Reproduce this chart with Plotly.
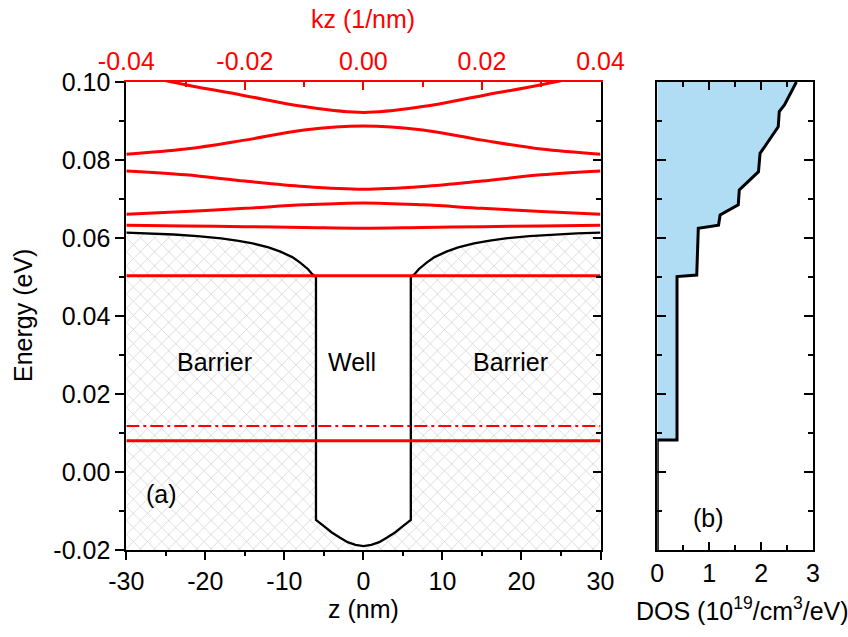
import plotly.graph_objects as go

# ---------------- data ----------------
# conduction band potential profile V(z)
z_pot = [-30, -27, -24, -21, -18, -16, -14, -12, -10.5, -9, -8, -7, -6.5, -6, -6,
         -5, -4, -3, -2, -1, 0, 1, 2, 3, 4, 5,
         6, 6, 6.5, 7, 8, 9, 10.5, 12, 14, 16, 18, 21, 24, 27, 30]
E_pot = [0.0614, 0.0612, 0.0609, 0.0605, 0.0599, 0.0593, 0.0586, 0.0576, 0.0565, 0.0551, 0.0537, 0.0520, 0.0508, 0.0500, -0.0123,
         -0.0139, -0.0155, -0.0168, -0.0180, -0.0187, -0.0190, -0.0187, -0.0180, -0.0168, -0.0155, -0.0139,
         -0.0123, 0.0500, 0.0508, 0.0520, 0.0537, 0.0551, 0.0565, 0.0576, 0.0586, 0.0593, 0.0599, 0.0605, 0.0609, 0.0612, 0.0614]

# subband dispersion E(kz)
kz = [-0.04, -0.03, -0.02, -0.01, 0.0, 0.01, 0.02, 0.03, 0.04]
band1 = [0.0080] * 9
band2 = [0.0503] * 9
band3 = [0.0633, 0.0631, 0.0629, 0.0627, 0.0625, 0.0627, 0.0629, 0.0631, 0.0633]
band4 = [0.0661, 0.0668, 0.0676, 0.0685, 0.0690, 0.0685, 0.0676, 0.0668, 0.0661]
band5 = [0.0772, 0.0762, 0.0746, 0.0732, 0.0725, 0.0732, 0.0746, 0.0762, 0.0772]
band6 = [0.0815, 0.0828, 0.0851, 0.0877, 0.0887, 0.0877, 0.0851, 0.0828, 0.0815]
band7 = [0.1025, 0.0993, 0.0965, 0.0937, 0.0922, 0.0937, 0.0965, 0.0993, 0.1025]
fermi = [0.0118] * 9

# density of states
dos_E = [-0.02, 0.0082, 0.0082, 0.0501, 0.0505, 0.0625, 0.0633, 0.0659, 0.0685, 0.0723,
         0.0770, 0.0817, 0.0885, 0.0924, 0.0941, 0.1000]
dos_val = [0.0, 0.0, 0.38, 0.38, 0.76, 0.79, 1.18, 1.21, 1.56, 1.58,
           1.95, 1.98, 2.33, 2.35, 2.45, 2.68]

# tick labels
E_ticks = [-0.02, 0.0, 0.02, 0.04, 0.06, 0.08, 0.10]
E_labels = ["-0.02", "0.00", "0.02", "0.04", "0.06", "0.08", "0.10"]
z_ticks = [-30, -20, -10, 0, 10, 20, 30]
z_labels = ["-30", "-20", "-10", "0", "10", "20", "30"]
kz_ticks = [-0.04, -0.02, 0.0, 0.02, 0.04]
kz_labels = ["-0.04", "-0.02", "0.00", "0.02", "0.04"]
dos_ticks = [0, 1, 2, 3]
dos_labels = ["0", "1", "2", "3"]

# ---------------- figure ----------------
W, H = 848, 637
T, B = 82, 87
FONT = "Liberation Sans, Arial, sans-serif"
FS = 25
RED = "#ff0000"

fig = go.Figure()

# hatched region under the potential
fig.add_trace(go.Scatter(
    x=z_pot + [30, -30], y=E_pot + [-0.02, -0.02],
    xaxis="x", yaxis="y", mode="lines", fill="toself",
    line=dict(width=0, color="rgba(0,0,0,0)"),
    fillcolor="white",
    fillpattern=dict(shape="x", size=10, solidity=0.12, fgcolor="#c8c8c8",
                     bgcolor="white", fillmode="replace"),
    hoverinfo="skip", showlegend=False))

fig.add_trace(go.Scatter(x=z_pot, y=E_pot, xaxis="x", yaxis="y", mode="lines",
                         line=dict(color="black", width=2.3), showlegend=False))

# dummy trace for the inside-tick right axis
fig.add_trace(go.Scatter(x=[None], y=[None], xaxis="x", yaxis="y2", mode="lines",
                         showlegend=False))

for b in [band1, band2, band3, band4, band5, band6, band7]:
    fig.add_trace(go.Scatter(x=kz, y=b, xaxis="x2", yaxis="y", mode="lines",
                             line=dict(color=RED, width=3, shape="spline"),
                             showlegend=False))
fig.add_trace(go.Scatter(x=kz, y=fermi, xaxis="x2", yaxis="y", mode="lines",
                         line=dict(color=RED, width=2, dash="13px,4px,3px,4px"),
                         showlegend=False))

# DOS
fig.add_trace(go.Scatter(x=dos_val, y=dos_E, xaxis="x3", yaxis="y3", mode="lines",
                         fill="tozerox", fillcolor="#b0dcf4",
                         line=dict(color="black", width=3), showlegend=False))

x_dom = [126.3 / W, 600.5 / W]
x3_dom = [657.3 / W, 813.0 / W]

axis_common = dict(showgrid=False, zeroline=False, automargin=False,
                   showline=True, linecolor="black", linewidth=2,
                   tickcolor="black", tickwidth=1.5,
                   tickfont=dict(family=FONT, size=FS, color="black"))

fig.update_layout(
    width=W, height=H,
    margin=dict(l=0, r=0, t=T, b=B),
    paper_bgcolor="white", plot_bgcolor="white",
    font=dict(family=FONT, size=FS, color="black"),
    showlegend=False,
    xaxis=dict(**axis_common, domain=x_dom, anchor="y", range=[-30, 30],
               tickmode="array", tickvals=z_ticks, ticktext=z_labels,
               ticks="outside", ticklen=8,
               minor=dict(tickvals=[-25, -15, -5, 5, 15, 25], ticks="outside",
                          ticklen=4, tickcolor="black", tickwidth=1.5)),
    xaxis2=dict(**{**axis_common, "linecolor": RED, "tickcolor": RED,
                   "tickfont": dict(family=FONT, size=FS, color=RED)},
                overlaying="x", side="top", anchor="y", range=[-0.04, 0.04],
                tickmode="array", tickvals=kz_ticks, ticktext=kz_labels,
                ticks="inside", ticklen=8,
                minor=dict(tickvals=[-0.03, -0.01, 0.01, 0.03], ticks="inside",
                           ticklen=5, tickcolor=RED, tickwidth=1.5)),
    yaxis=dict(**axis_common, domain=[0, 1], anchor="x", range=[-0.02, 0.10],
               tickmode="array", tickvals=E_ticks, ticktext=E_labels,
               ticks="outside", ticklen=9,
               minor=dict(tickvals=[-0.01, 0.01, 0.03, 0.05, 0.07, 0.09],
                          ticks="outside", ticklen=5, tickcolor="black", tickwidth=1.5)),
    yaxis2=dict(**axis_common, overlaying="y", side="right", anchor="x",
                range=[-0.02, 0.10], tickmode="array", tickvals=E_ticks,
                showticklabels=False, ticks="inside", ticklen=8,
                minor=dict(tickvals=[-0.01, 0.01, 0.03, 0.05, 0.07, 0.09],
                           ticks="inside", ticklen=5, tickcolor="black", tickwidth=1.5)),
    xaxis3=dict(**axis_common, domain=x3_dom, anchor="y3", range=[0, 3],
                tickmode="array", tickvals=dos_ticks, ticktext=dos_labels,
                ticks="inside", ticklen=8, mirror="ticks",
                minor=dict(tickvals=[0.5, 1.5, 2.5], ticks="inside", ticklen=5,
                           tickcolor="black", tickwidth=1.5)),
    yaxis3=dict(**axis_common, domain=[0, 1], anchor="x3", range=[-0.02, 0.10],
                tickmode="array", tickvals=E_ticks, showticklabels=False,
                ticks="inside", ticklen=9, mirror="ticks",
                minor=dict(tickvals=[-0.01, 0.01, 0.03, 0.05, 0.07, 0.09],
                           ticks="inside", ticklen=5, tickcolor="black", tickwidth=1.5)),
)

def px_x(p):
    return p / W

def px_y(p):
    # paper coordinates are relative to the plotting area (inside margins)
    return (H - B - p) / (H - T - B)

annotations = [
    dict(text="Energy (eV)", x=px_x(23), y=px_y(316), textangle=-90),
    dict(text="z (nm)", x=px_x(363), y=px_y(609)),
    dict(text="kz (1/nm)", x=px_x(363), y=px_y(19), font=dict(color=RED)),
    dict(text="DOS (10<sup>19</sup>/cm<sup>3</sup>/eV)", x=px_x(742), y=px_y(609)),
]
for a in annotations:
    a.update(xref="paper", yref="paper", showarrow=False, xanchor="center", yanchor="middle")
    f = dict(family=FONT, size=FS, color="black")
    f.update(a.get("font", {}))
    a["font"] = f
    fig.add_annotation(**a)

labels = [("Barrier", -18.9, 0.0282), ("Well", -1.4, 0.0282), ("Barrier", 18.6, 0.0282),
          ("(a)", -25.5, -0.0056)]
for t, xx, yy in labels:
    fig.add_annotation(text=t, x=xx, y=yy, xref="x", yref="y", showarrow=False,
                       font=dict(family=FONT, size=FS, color="black"))
fig.add_annotation(text="(b)", x=0.99, y=-0.0118, xref="x3", yref="y3", showarrow=False,
                   font=dict(family=FONT, size=FS, color="black"))

fig.write_html("out.html", config={"displayModeBar": False},
               post_script="document.body.style.margin='0';document.body.style.padding='0';")
